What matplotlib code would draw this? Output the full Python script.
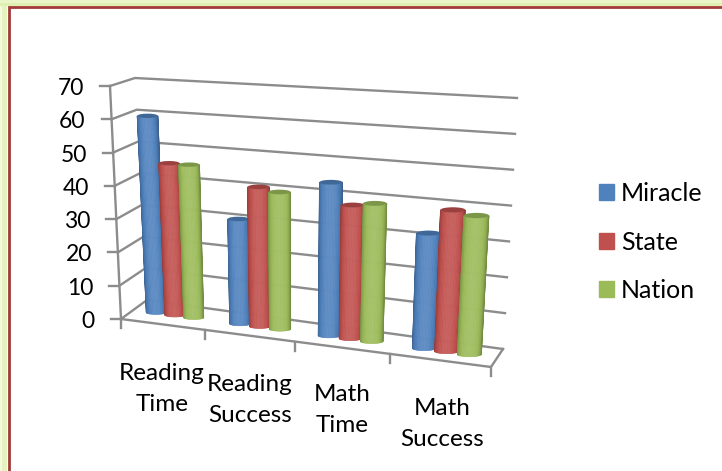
import numpy as np
import matplotlib
matplotlib.use('Agg')
import matplotlib.pyplot as plt
from matplotlib.patches import Patch, Rectangle, Ellipse

categories = ['Reading\nTime', 'Reading\nSuccess', 'Math\nTime', 'Math\nSuccess']
series = ['Miracle', 'State', 'Nation']
miracle = [60, 31, 44, 32]
state = [46, 41, 38, 39]
nation = [46, 40, 39, 38]
yticks = [0, 10, 20, 30, 40, 50, 60, 70]

colors = ['#4F81BD', '#C0504D', '#9BBB59']
grid = '#8C8C8C'
ymax = 70.0

# corners of the 3d box in pixels: (front/back, left/right, floor/top)
FL0, FL1 = np.array([121., 319.]), np.array([110., 86.])
BL0, BL1 = np.array([147., 300.]), np.array([135., 78.])
FR0, FR1 = np.array([491., 367.]), np.array([507., 102.])
BR0, BR1 = np.array([503., 349.]), np.array([517., 98.])
K = 1.13  # horizontal perspective


def project(u, d, h):
    # u along categories 0-1, d depth 0-1 (0 = front), h value
    s = u / (u + K * (1 - u))
    t = h / ymax
    floor = (1-s)*(1-d)*FL0 + s*(1-d)*FR0 + (1-s)*d*BL0 + s*d*BR0
    top = (1-s)*(1-d)*FL1 + s*(1-d)*FR1 + (1-s)*d*BL1 + s*d*BR1
    return (1-t)*floor + t*top


def shade(c, f):
    c = np.array(matplotlib.colors.to_rgb(c))
    if f < 1:
        return c * f
    return c + (1 - c) * (f - 1)


def cylinder(ax, u, val, color, zorder):
    du = 0.03
    d = 0.5
    b = project(u, d, 0)
    t = project(u, d, val)
    rb = (project(u + du, d, 0)[0] - project(u - du, d, 0)[0]) / 2
    rt = (project(u + du, d, val)[0] - project(u - du, d, val)[0]) / 2
    n = 24
    th = np.linspace(np.pi, 0, n + 1)
    bx, by = b[0] + rb*np.cos(th), b[1] + 0.2*rb*np.sin(th)
    tx, ty = t[0] + rt*np.cos(th), t[1] + 0.2*rt*np.sin(th)
    # thin strips round the side, lighter in the middle
    for k in range(n):
        m = (th[k] + th[k+1]) / 2
        c = shade(color, 0.74 + 0.36*np.sin(m)**1.2)
        ax.fill([bx[k], bx[k+1], tx[k+1], tx[k]], [by[k], by[k+1], ty[k+1], ty[k]],
                fc=c, ec=c, lw=0.5, zorder=zorder)
    ax.add_patch(Ellipse(t, 2*rt, 0.42*rt, fc=shade(color, 0.8), ec='none', zorder=zorder + 0.1))


fig = plt.figure(figsize=(7.22, 4.71), dpi=100)
ax = fig.add_axes([0, 0, 1, 1])
ax.set_xlim(0, 722)
ax.set_ylim(471, 0)
ax.axis('off')
plt.rcParams['font.family'] = ['Lato', 'DejaVu Sans']

# frame
for w, col in [(7, '#F4FAE0'), (5.5, '#E6F3BE')]:
    ax.add_patch(Rectangle((7 - w, 0), w, 471, fc=col, ec='none'))
for w, col in [(6, '#EAF5C8'), (3, '#E0F0B0')]:
    ax.add_patch(Rectangle((0, 6 - w), 722, w, fc=col, ec='none'))
ax.plot([9, 9, 722], [471, 7, 7], color='#A23B38', lw=2, solid_joinstyle='miter')

# walls and floor
for v in yticks:
    a, b, c = project(0, 0, v), project(0, 1, v), project(1, 1, v)
    ax.plot([a[0] - 10, a[0]], [a[1], a[1]], color=grid, lw=1.7)
    ax.plot([a[0], b[0], c[0]], [a[1], b[1], c[1]], color=grid, lw=1.7)
    ax.text(a[0] - 26, a[1] + 2.5, str(v), ha='right', va='center', fontsize=16.5, color='black')
p = [project(0, 0, 0), project(0, 0, ymax)]
ax.plot([p[0][0], p[1][0]], [p[0][1], p[1][1]], color=grid, lw=1.7)
p = [project(0, 0, 0), project(1, 0, 0), project(1, 1, 0)]
ax.plot([q[0] for q in p], [q[1] for q in p], color=grid, lw=1.7)
for i in range(5):
    a = project(i / 4, 0, 0)
    ax.plot([a[0], a[0]], [a[1], a[1] + 9], color=grid, lw=1.7)

# bars
values = [miracle, state, nation]
z = 3
for i in range(len(categories)):
    for j in range(3):
        cylinder(ax, (i + 0.5) / 4 + (j - 1) * 0.057, values[j][i], colors[j], z)
        z += 1

# category labels
lab_x = [162, 250, 342, 442]
lab_y = [389, 400, 410, 424]
for i, c in enumerate(categories):
    ax.text(lab_x[i], lab_y[i], c, ha='center', va='center', fontsize=17.5, linespacing=1.58, color='black')

handles = [Patch(color=colors[j], label=series[j]) for j in range(3)]
ax.legend(handles=handles, loc='upper left', bbox_to_anchor=(599, 182), bbox_transform=ax.transData,
          frameon=False, fontsize=18, handlelength=0.6, handleheight=0.6, handletextpad=0.28,
          labelspacing=1.02, borderpad=0, borderaxespad=0)

fig.savefig('out.png', dpi=100)
